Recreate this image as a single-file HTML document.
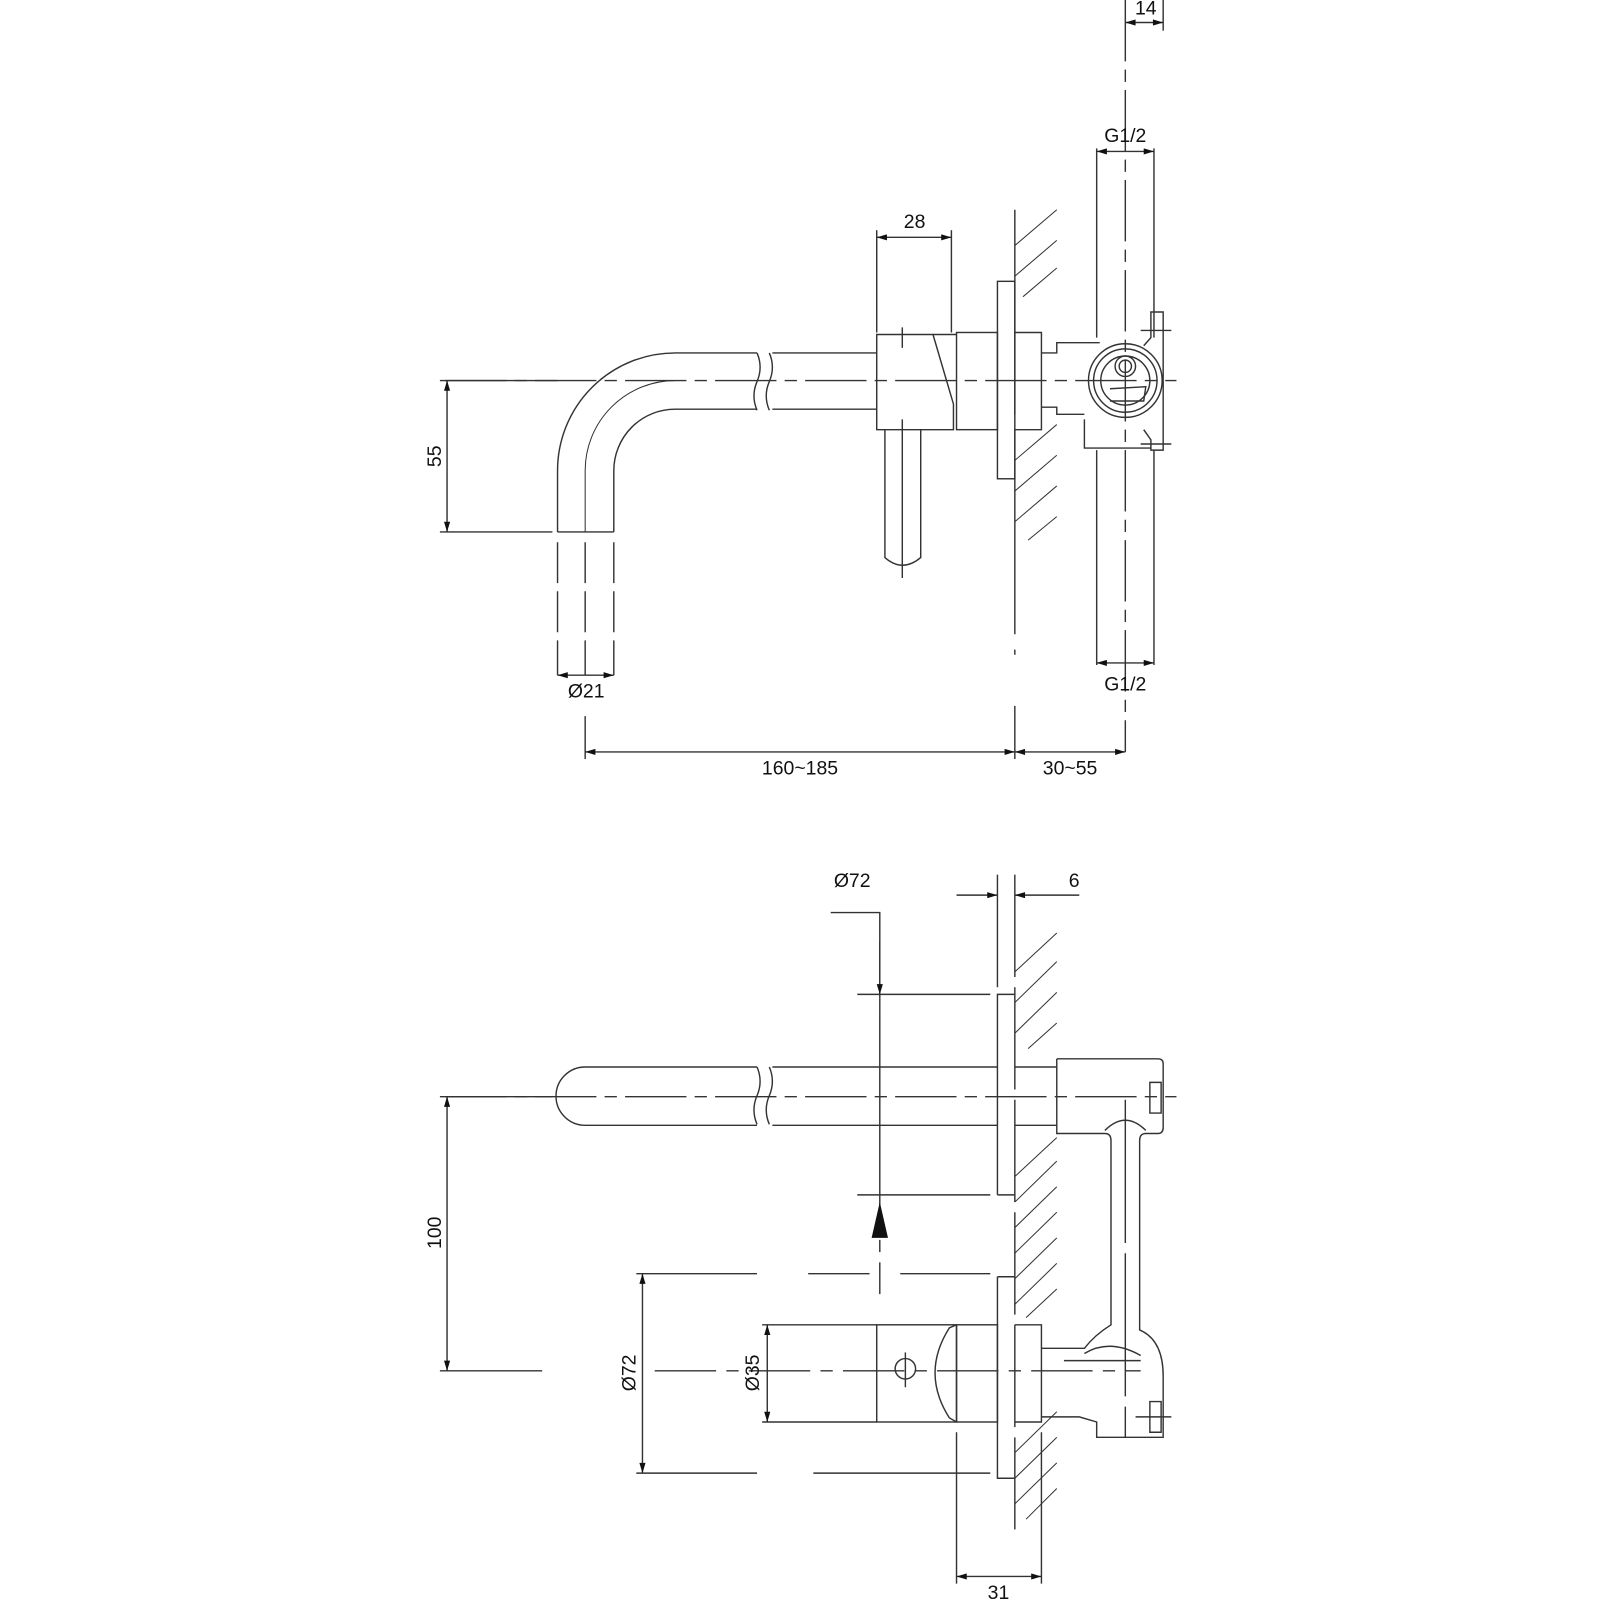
<!DOCTYPE html>
<html><head><meta charset="utf-8"><style>
html,body{margin:0;padding:0;background:#fff}
svg{display:block}
text{font-family:"Liberation Sans",sans-serif;font-size:19px;fill:#111;text-anchor:middle}
</style></head><body>
<svg width="1600" height="1600" viewBox="0 0 1564 1564" xmlns="http://www.w3.org/2000/svg">
<defs>
<marker id="a" viewBox="0 0 10 6" refX="10" refY="3" markerWidth="14" markerHeight="6" markerUnits="userSpaceOnUse" orient="auto-start-reverse"><path d="M0,0L10,3L0,6z" fill="#111"/></marker>
</defs>
<g fill="none" stroke="#333" stroke-width="1.4">
<!-- ===== TOP VIEW ===== -->
<line x1="435" y1="372" x2="1150" y2="372" stroke-dasharray="60,8,12,8"/>
<path d="M545,520 V460 A115,115 0 0 1 660,345 H740"/>
<path d="M600,520 V460 A60,60 0 0 1 660,400 H740"/>
<path d="M572,520 V460 A88,88 0 0 1 660,372" stroke-width="1"/>
<line x1="545" y1="520" x2="600" y2="520"/>
<path d="M545,530 V660 M600,530 V660 M572,530 V660" stroke-dasharray="40,8"/>
<path d="M740,345 q6,14 0,28 q-6,14 0,28"/>
<path d="M752,345 q6,14 0,28 q-6,14 0,28"/>
<path d="M755,345 H857 M755,400 H857"/>
<path d="M857,327 H912 L932,395 V420 H857 Z"/>
<line x1="912" y1="327" x2="935" y2="327"/>
<rect x="935" y="325" width="40" height="95"/>
<rect x="975" y="275" width="17" height="193"/>
<path d="M992,325 H1018 V420 H992"/>
<path d="M1018,345 H1033 V335 H1075 M1018,398 H1033 L1033,405 H1060"/>
<circle cx="1100" cy="372" r="36"/><circle cx="1100" cy="372" r="31"/><circle cx="1100" cy="372" r="24"/>
<circle cx="1100" cy="358" r="10"/><circle cx="1100" cy="358" r="6"/>
<path d="M1085,380 L1120,378 L1118,392 L1085,392"/>
<path d="M1118,338 L1125,330 V305 H1137 V440 H1125 V430 L1118,420 M1060,410 V438 H1125"/>
<line x1="1115" y1="323" x2="1145" y2="323"/><line x1="1115" y1="434" x2="1145" y2="434"/>
<path d="M865,420 V545 Q882,560 900,545 V420"/>
<line x1="882" y1="410" x2="882" y2="565"/>
<line x1="882" y1="320" x2="882" y2="340"/>
<line x1="992" y1="205" x2="992" y2="640" stroke-dasharray="200,15"/>
<g stroke-width="1"><path d="M992,240 L1033,205 M992,270 L1033,235 M1000,290 L1033,262"/>
<path d="M992,450 L1033,415 M992,480 L1033,445 M992,510 L1033,475 M1005,528 L1033,505"/></g>
<path d="M1072,145 V330 M1128,145 V330 M1072,440 V650 M1128,440 V650"/>
<line x1="1100" y1="0" x2="1100" y2="735" stroke-dasharray="60,8,12,8"/>
<line x1="1137" y1="0" x2="1137" y2="30"/>
<line x1="1100" y1="22" x2="1137" y2="22" marker-start="url(#a)" marker-end="url(#a)"/>
<line x1="1072" y1="148" x2="1128" y2="148" marker-start="url(#a)" marker-end="url(#a)"/>
<line x1="1072" y1="648" x2="1128" y2="648" marker-start="url(#a)" marker-end="url(#a)"/>
<line x1="857" y1="225" x2="857" y2="325"/><line x1="930" y1="225" x2="930" y2="325"/>
<line x1="857" y1="232" x2="930" y2="232" marker-start="url(#a)" marker-end="url(#a)"/>
<line x1="430" y1="372" x2="545" y2="372"/><line x1="430" y1="520" x2="540" y2="520"/>
<line x1="437" y1="372" x2="437" y2="520" marker-start="url(#a)" marker-end="url(#a)"/>
<line x1="545" y1="660" x2="600" y2="660" marker-start="url(#a)" marker-end="url(#a)"/>
<line x1="572" y1="700" x2="572" y2="742"/><line x1="992" y1="690" x2="992" y2="742"/>
<line x1="572" y1="735" x2="992" y2="735" marker-start="url(#a)" marker-end="url(#a)"/>
<line x1="992" y1="735" x2="1100" y2="735" marker-start="url(#a)" marker-end="url(#a)"/>

<!-- ===== BOTTOM VIEW ===== -->
<line x1="435" y1="1072" x2="1150" y2="1072" stroke-dasharray="60,8,12,8"/>
<path d="M740,1043 H572 A28.5,28.5 0 0 0 572,1100 H740"/>
<path d="M740,1043 q6,14 0,28 q-6,14 0,28"/>
<path d="M752,1043 q6,14 0,28 q-6,14 0,28"/>
<path d="M755,1043 H975 M755,1100 H975 M992,1043 H1033 M992,1100 H1033"/>
<path d="M975,1168 V972 H992 M975,1168 H992"/>
<path d="M975,1248 V1445 H992 M975,1248 H992"/>
<line x1="992" y1="855" x2="992" y2="1495" stroke-dasharray="100,10"/>
<line x1="975" y1="855" x2="975" y2="965"/>
<g stroke-width="1"><path d="M992,950 L1033,912 M992,980 L1033,940 M992,1010 L1033,970 M1005,1025 L1033,1000"/>
<path d="M992,1150 L1033,1112 M992,1175 L1033,1135 M992,1200 L1033,1160 M992,1225 L1033,1185 M992,1250 L1033,1210 M992,1275 L1033,1235 M1003,1288 L1033,1260"/>
<path d="M992,1420 L1033,1380 M992,1445 L1033,1405 M992,1470 L1033,1430 M1003,1485 L1033,1455"/></g>
<path d="M1033,1035 H1132 Q1137,1035 1137,1040 V1102 Q1137,1108 1132,1108 H1120 Q1114,1108 1114,1115 V1300 Q1137,1310 1137,1345 V1405 H1072 V1390 L1055,1385 H1018 M1033,1035 V1108 H1080 Q1086,1108 1086,1115 V1295 Q1070,1305 1060,1318 L1018,1318"/>
<path d="M1080,1105 Q1100,1085 1120,1105"/>
<line x1="1100" y1="1075" x2="1100" y2="1405" stroke-dasharray="140,10"/>
<path d="M1124,1058 H1135 V1088 H1124 Z"/>
<path d="M1124,1370 H1135 V1400 H1124 Z"/>
<path d="M1060,1323 Q1085,1308 1115,1325 M1040,1330 H1115"/>
<line x1="1110" y1="1385" x2="1145" y2="1385"/>
<rect x="857" y="1295" width="78" height="95"/>
<path d="M935,1295 L928,1298 Q900,1342 928,1386 L935,1390"/>
<rect x="935" y="1295" width="40" height="95"/>
<path d="M992,1295 H1018 V1390 H992"/>
<circle cx="885" cy="1338" r="10"/>
<line x1="885" y1="1322" x2="885" y2="1356"/>
<line x1="640" y1="1340" x2="1115" y2="1340" stroke-dasharray="60,10,12,10"/>
<line x1="430" y1="1072" x2="540" y2="1072"/><line x1="430" y1="1340" x2="530" y2="1340"/>
<line x1="437" y1="1072" x2="437" y2="1340" marker-start="url(#a)" marker-end="url(#a)"/>
<path d="M622,1245 H740 M790,1245 H850 M880,1245 H968 M622,1440 H740 M795,1440 H968"/>
<line x1="628" y1="1245" x2="628" y2="1440" marker-start="url(#a)" marker-end="url(#a)"/>
<line x1="745" y1="1295" x2="857" y2="1295"/><line x1="745" y1="1390" x2="857" y2="1390"/>
<line x1="750" y1="1295" x2="750" y2="1390" marker-start="url(#a)" marker-end="url(#a)"/>
<path d="M812,892 H860 V972"/>
<line x1="860" y1="920" x2="860" y2="972" marker-end="url(#a)"/>
<path d="M838,972 H968 M838,1168 H968"/>
<line x1="860" y1="972" x2="860" y2="1265" stroke-dasharray="230,10,12,10"/>
<line x1="935" y1="875" x2="975" y2="875" marker-end="url(#a)"/>
<line x1="1055" y1="875" x2="992" y2="875" marker-end="url(#a)"/>
<line x1="935" y1="1400" x2="935" y2="1548"/><line x1="1018" y1="1400" x2="1018" y2="1548"/>
<line x1="935" y1="1541" x2="1018" y2="1541" marker-start="url(#a)" marker-end="url(#a)"/>
</g>
<path d="M860,1175 L852,1210 H868 Z" fill="#111"/>
<text x="1120" y="14">14</text>
<text x="1100" y="139">G1/2</text>
<text x="1100" y="675">G1/2</text>
<text x="894" y="223">28</text>
<text x="573" y="682">Ø21</text>
<text x="782" y="757">160~185</text>
<text x="1046" y="757">30~55</text>
<text transform="translate(431,446) rotate(-90)">55</text>
<text x="833" y="867">Ø72</text>
<text x="1050" y="867">6</text>
<text transform="translate(431,1205) rotate(-90)">100</text>
<text transform="translate(621,1342) rotate(-90)">Ø72</text>
<text transform="translate(742,1342) rotate(-90)">Ø35</text>
<text x="976" y="1563">31</text>
</svg>
</body></html>
